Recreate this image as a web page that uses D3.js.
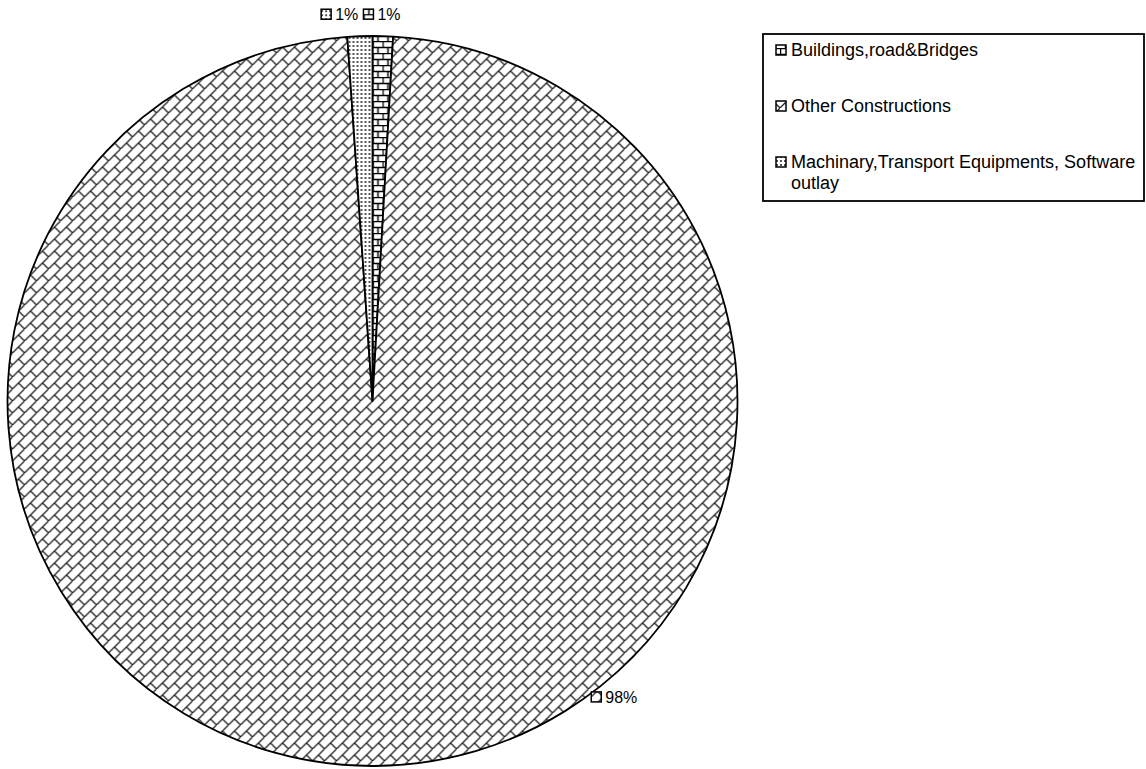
<!DOCTYPE html>
<html>
<head>
<meta charset="utf-8">
<script src="https://cdn.jsdelivr.net/npm/d3@7"></script>
<style>
  body { margin: 0; background: #fff; }
  text { font-family: "Liberation Sans", Arial, sans-serif; fill: #000; }
</style>
</head>
<body>
<div id="chart-area"></div>
<script>
var categories = ["Buildings,road&Bridges", "Other Constructions", "Machinary,Transport Equipments, Software outlay"];
var values = [0.9, 98.0, 1.1];
var labels = ["1%", "98%", "1%"];
var patternIds = ["brick", "diagbrick", "dots"];

var width = 1146, height = 769;
var cx = 372.5, cy = 401, radius = 365;

var svg = d3.select("#chart-area")
  .append("svg")
  .attr("width", width)
  .attr("height", height);

/*----fill patterns---- */
var defs = svg.append("defs");

var p1 = defs.append("pattern").attr("id", "brick")
  .attr("patternUnits", "userSpaceOnUse").attr("width", 10).attr("height", 12);
p1.append("rect").attr("width", 10).attr("height", 12).attr("fill", "#fff");
p1.append("path").attr("d", "M0,0.5H10M0,6.5H10M0.5,0V6.5M5.5,6.5V12")
  .attr("stroke", "#000").attr("stroke-width", 1.5).attr("fill", "none");

var p2 = defs.append("pattern").attr("id", "diagbrick")
  .attr("patternUnits", "userSpaceOnUse").attr("width", 12).attr("height", 12);
p2.append("rect").attr("width", 12).attr("height", 12).attr("fill", "#fff");
p2.append("path").attr("d", "M-1,13L13,-1M6,6L13,13M-1,-1L0,0")
  .attr("stroke", "#222").attr("stroke-width", 1.3).attr("fill", "none");

var p3 = defs.append("pattern").attr("id", "dots")
  .attr("patternUnits", "userSpaceOnUse").attr("width", 4).attr("height", 4);
p3.append("rect").attr("width", 4).attr("height", 4).attr("fill", "#fff");
p3.append("rect").attr("x", 0).attr("y", 0).attr("width", 2).attr("height", 2).attr("fill", "#555");

/*----pie---- */
var pie = d3.pie().sort(null).value(function (d) { return d; });
var arcs = pie(values);
var arc = d3.arc().innerRadius(0).outerRadius(radius);

var g = svg.append("g").attr("transform", "translate(" + cx + "," + cy + ")");

g.selectAll("path.slice")
  .data(arcs)
  .enter()
  .append("path")
  .attr("class", "slice")
  .attr("d", arc)
  .attr("fill", function (d, i) { return "url(#" + patternIds[i] + ")"; })
  .attr("stroke", "#000")
  .attr("stroke-width", 1.8)
  .attr("stroke-linejoin", "round");

/*----data labels---- */
// small slices: outside end; the big one sits lower right on the rim
function labelPos(d, i) {
  var a = (d.startAngle + d.endAngle) / 2;
  var r = radius + 22;
  if (i === 1) { a = 2.505; r = radius + 3; }
  return [Math.sin(a) * r, -Math.cos(a) * r];
}

var lab = g.selectAll("g.lab")
  .data(arcs)
  .enter()
  .append("g")
  .attr("class", "lab")
  .attr("transform", function (d, i) {
    var p = labelPos(d, i);
    var textW = labels[i].length * 9 + 14;
    var x;
    if (i === 1) x = p[0];
    else if (p[0] < 0) x = p[0] - textW - 6;
    else x = p[0] - 20;
    return "translate(" + x + "," + p[1] + ")";
  });

lab.append("rect")
  .attr("x", 0).attr("y", -5).attr("width", 10).attr("height", 10)
  .attr("fill", function (d, i) { return "url(#" + patternIds[i] + ")"; })
  .attr("stroke", "#000").attr("stroke-width", 1.5);

lab.append("text")
  .attr("x", 14).attr("y", 0)
  .attr("dy", "0.35em")
  .attr("font-size", "16px")
  .text(function (d, i) { return labels[i]; });

/*----legend---- */
var legX = 763, legY = 34, legW = 381, rowGap = 56;
var legend = svg.append("g");
var box = legend.append("rect")
  .attr("x", legX).attr("y", legY).attr("width", legW)
  .attr("fill", "#fff").attr("stroke", "#000").attr("stroke-width", 1.8);

var lastY = 0;
categories.forEach(function (c, i) {
  var y = legY + 16 + i * rowGap;
  legend.append("rect")
    .attr("x", legX + 13).attr("y", y - 5).attr("width", 10).attr("height", 10)
    .attr("fill", "url(#" + patternIds[i] + ")")
    .attr("stroke", "#000").attr("stroke-width", 1.5);
  var t = legend.append("text")
    .attr("x", legX + 28).attr("y", y).attr("dy", "0.35em")
    .attr("font-size", "18px");
  // wrap long names to the box width
  var words = c.split(" ");
  var line = [];
  var ts = t.append("tspan").attr("x", legX + 28);
  var lineNo = 0;
  words.forEach(function (w) {
    line.push(w);
    ts.text(line.join(" "));
    if (ts.node().getComputedTextLength() > legW - 36 && line.length > 1) {
      line.pop();
      ts.text(line.join(" "));
      line = [w];
      lineNo++;
      ts = t.append("tspan").attr("x", legX + 28).attr("dy", "21").text(w);
    }
  });
  lastY = y + lineNo * 21;
});
box.attr("height", lastY + 18 - legY);
</script>
</body>
</html>
